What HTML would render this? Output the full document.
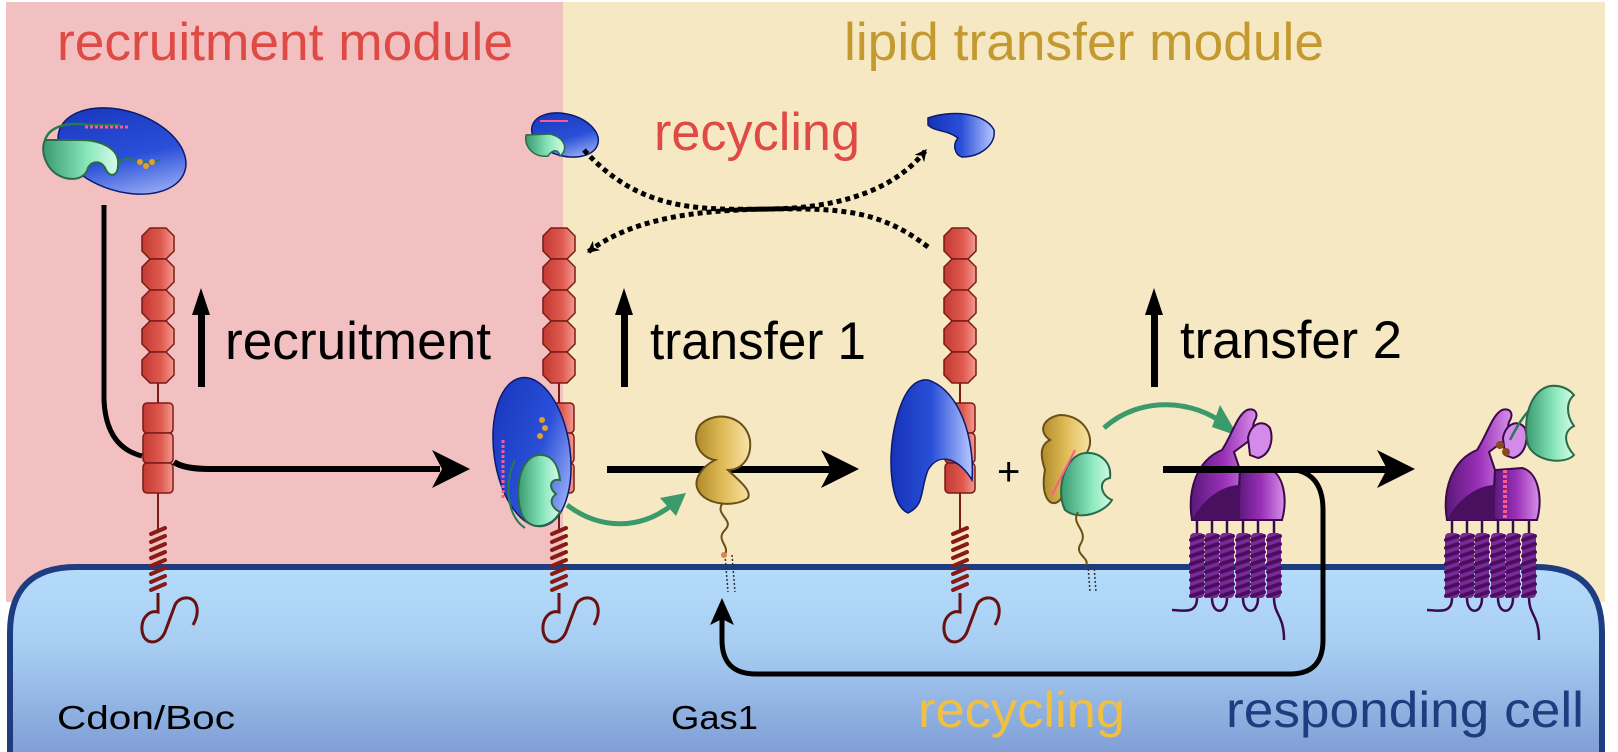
<!DOCTYPE html>
<html><head><meta charset="utf-8"><style>
html,body{margin:0;padding:0;background:#fff;width:1618px;height:752px;overflow:hidden;}
svg{display:block;font-family:"Liberation Sans",sans-serif;}
</style></head><body>
<svg width="1618" height="752" viewBox="0 0 1618 752" xmlns="http://www.w3.org/2000/svg">
<defs>
<linearGradient id="cell" x1="0" y1="0" x2="0" y2="1"><stop offset="0" stop-color="#b6dcfb"/><stop offset="0.45" stop-color="#a6ccf2"/><stop offset="1" stop-color="#809fd6"/></linearGradient>
<linearGradient id="red" x1="0" y1="0" x2="1" y2="0"><stop offset="0" stop-color="#c23a32"/><stop offset="0.6" stop-color="#e05a50"/><stop offset="1" stop-color="#f29a90"/></linearGradient>
<linearGradient id="blue" x1="0" y1="0" x2="1" y2="1"><stop offset="0" stop-color="#1533b8"/><stop offset="0.55" stop-color="#2a4fd8"/><stop offset="1" stop-color="#c4d2ff"/></linearGradient>
<linearGradient id="blueh" x1="0" y1="0" x2="1" y2="0"><stop offset="0" stop-color="#1533b8"/><stop offset="0.5" stop-color="#2a4fd8"/><stop offset="1" stop-color="#b8c8ff"/></linearGradient>
<linearGradient id="green" x1="0" y1="0" x2="1" y2="0"><stop offset="0" stop-color="#3a9a70"/><stop offset="0.6" stop-color="#8ae8bc"/><stop offset="1" stop-color="#d8fbe8"/></linearGradient>
<linearGradient id="gold" x1="0" y1="0" x2="1" y2="0"><stop offset="0" stop-color="#b08a28"/><stop offset="0.5" stop-color="#e0bc58"/><stop offset="1" stop-color="#f8e4a8"/></linearGradient>
<linearGradient id="purp" x1="0" y1="0" x2="1" y2="0"><stop offset="0" stop-color="#5a1878"/><stop offset="0.5" stop-color="#9a30b8"/><stop offset="1" stop-color="#d890e8"/></linearGradient>
<marker id="ah" markerWidth="12" markerHeight="12" refX="9" refY="5" orient="auto" markerUnits="userSpaceOnUse" viewBox="0 0 10 10"><path d="M0,0 L10,5 L0,10 L3,5 Z" fill="#000"/></marker>
<g id="chain">
 <g fill="url(#red)" stroke="#7a1a14" stroke-width="1.5">
 <polygon points="-8,0 8,0 16,8 16,23 8,31 -8,31 -16,23 -16,8"/>
 <polygon points="-8,31 8,31 16,39 16,54 8,62 -8,62 -16,54 -16,39"/>
 <polygon points="-8,62 8,62 16,70 16,85 8,93 -8,93 -16,85 -16,70"/>
 <polygon points="-8,93 8,93 16,101 16,116 8,124 -8,124 -16,116 -16,101"/>
 <polygon points="-8,124 8,124 16,132 16,147 8,155 -8,155 -16,147 -16,132"/>
 </g>
 <line x1="0" y1="155" x2="0" y2="305" stroke="#7a1a14" stroke-width="2"/>
 <g fill="url(#red)" stroke="#7a1a14" stroke-width="1.5">
 <rect x="-15" y="175" width="30" height="30" rx="4"/>
 <rect x="-15" y="205" width="30" height="30" rx="4"/>
 <rect x="-15" y="235" width="30" height="30" rx="4"/>
 </g>
 <g stroke="#8a1a14" stroke-width="4" stroke-linecap="round">
 <line x1="-7" y1="306" x2="7" y2="300"/><line x1="-7" y1="314" x2="7" y2="308"/><line x1="-7" y1="322" x2="7" y2="316"/><line x1="-7" y1="330" x2="7" y2="324"/><line x1="-7" y1="338" x2="7" y2="332"/><line x1="-7" y1="346" x2="7" y2="340"/><line x1="-7" y1="354" x2="7" y2="348"/><line x1="-7" y1="362" x2="7" y2="356"/>
 </g>
 <path d="M0,365 L0,384 C-9,382 -17,390 -16,402 C-15,417 1,418 7,404 L17,377 C21,368 37,366 39,380 C40,388 37,393 35,397" fill="none" stroke="#6a1010" stroke-width="3"/>
</g>
<g id="coilp" stroke="#4a0e5e" stroke-width="4" stroke-linecap="round">
 <line x1="-6" y1="4" x2="6" y2="0"/><line x1="-6" y1="12" x2="6" y2="8"/><line x1="-6" y1="20" x2="6" y2="16"/><line x1="-6" y1="28" x2="6" y2="24"/><line x1="-6" y1="36" x2="6" y2="32"/><line x1="-6" y1="44" x2="6" y2="40"/><line x1="-6" y1="52" x2="6" y2="48"/><line x1="-6" y1="60" x2="6" y2="56"/>
</g>
<g id="recep">
 <g stroke="#3a0a4a" stroke-width="2.5" fill="none">
  <path d="M5,110 L5,123 M20,110 L20,123 M35,110 L35,123 M51,110 L51,123 M66,110 L66,123 M82,110 L82,123"/>
  <path d="M5,188 C5,205 -10,200 -20,200 M20,188 C20,205 35,205 35,188 M51,188 C51,205 66,205 66,188 M82,188 C82,205 92,205 92,230"/>
 </g>
 <g fill="#7a2a98">
  <rect x="-2" y="123" width="14" height="65" rx="4"/><rect x="13" y="123" width="14" height="65" rx="4"/><rect x="28" y="123" width="14" height="65" rx="4"/><rect x="44" y="123" width="14" height="65" rx="4"/><rect x="59" y="123" width="14" height="65" rx="4"/><rect x="75" y="123" width="14" height="65" rx="4"/>
 </g>
 <use href="#coilp" x="5" y="126"/><use href="#coilp" x="20" y="126"/><use href="#coilp" x="35" y="126"/><use href="#coilp" x="51" y="126"/><use href="#coilp" x="66" y="126"/><use href="#coilp" x="82" y="126"/>
 <path d="M0,110 C-5,80 5,50 30,40 C40,25 45,5 55,0 C62,-2 68,2 62,12 L58,30 L42,42 L48,60 L45,110 Z" fill="url(#purp)" stroke="#3a0a4a" stroke-width="2"/>
 <path d="M48,60 L46,110 L90,110 C96,90 92,62 75,58 Z" fill="url(#purp)" stroke="#3a0a4a" stroke-width="2"/>
 <path d="M0,110 C10,90 30,75 48,75 L48,110 Z" fill="#4a1060"/>
 <path d="M56,28 C58,15 70,8 78,18 C82,30 78,45 66,48 L58,45 Z" fill="#d48ae8" stroke="#3a0a4a" stroke-width="2"/>
</g>
</defs>
<!-- backgrounds -->
<rect x="6" y="2" width="557" height="600" fill="#f2c0c0"/>
<rect x="563" y="2" width="1042" height="600" fill="#f7e8c4"/>
<path d="M10,752 L10,633 Q10,567 76,567 L1536,567 Q1602,567 1602,633 L1602,752 Z" fill="url(#cell)"/>
<path d="M10,752 L10,633 Q10,567 76,567 L1536,567 Q1602,567 1602,633 L1602,752" fill="none" stroke="#1d3d80" stroke-width="6"/>

<!-- titles -->
<text x="57" y="60" font-size="53" fill="#e04a45" textLength="456" lengthAdjust="spacingAndGlyphs">recruitment module</text>
<text x="844" y="60" font-size="53" fill="#c49a30" textLength="480" lengthAdjust="spacingAndGlyphs">lipid transfer module</text>
<text x="654" y="150" font-size="53" fill="#e04a45" textLength="206" lengthAdjust="spacingAndGlyphs">recycling</text>

<!-- chains -->
<use href="#chain" x="158" y="228"/>
<use href="#chain" x="559" y="228"/>
<use href="#chain" x="960" y="228"/>

<!-- top-left complex -->
<ellipse cx="122" cy="151" rx="66" ry="40" transform="rotate(18 122 151)" fill="url(#blue)" stroke="#0a1a70" stroke-width="1.5"/>
<path d="M45,140 C40,150 45,172 65,178 C78,181 86,176 88,168 C92,160 102,160 106,170 C110,178 118,176 118,165 C120,148 100,140 80,140 Z" fill="url(#green)" stroke="#2a6a4a" stroke-width="2"/>
<path d="M45,140 C50,125 70,122 90,125 L120,125" fill="none" stroke="#2a7a50" stroke-width="2.5"/>
<path d="M85,127 L128,127" stroke="#ff5a8a" stroke-width="3" stroke-dasharray="3 2"/>
<path d="M118,165 C125,150 140,168 160,160" fill="none" stroke="#2a7a50" stroke-width="2"/>
<circle cx="140" cy="162" r="3" fill="#e0a030"/><circle cx="146" cy="166" r="3" fill="#e0a030"/><circle cx="152" cy="162" r="3" fill="#e0a030"/>

<!-- small top complex -->
<ellipse cx="565" cy="135" rx="34" ry="21" transform="rotate(15 565 135)" fill="url(#blue)" stroke="#0a1a70" stroke-width="1.5"/>
<path d="M526,135 C524,148 535,158 548,156 C552,150 558,148 560,156 C568,150 566,138 550,134 Z" fill="url(#green)" stroke="#2a6a4a" stroke-width="1.5"/>
<line x1="540" y1="121" x2="568" y2="121" stroke="#ff5a8a" stroke-width="2"/>
<!-- small top-right blue -->
<path d="M928,118 C950,110 985,112 994,130 C996,145 980,157 962,157 C955,155 952,145 958,138 C948,130 935,132 928,125 Z" fill="url(#blueh)" stroke="#0a1a70" stroke-width="1.5"/>

<!-- dotted recycling arrows -->
<path d="M584,150 C640,212 700,210 770,209 C840,208 895,190 926,150" fill="none" stroke="#000" stroke-width="5" stroke-dasharray="5 4" marker-end="url(#ah)"/>
<path d="M928,247 C880,210 840,208 770,209 C690,210 630,220 588,252" fill="none" stroke="#000" stroke-width="5" stroke-dasharray="5 4" marker-end="url(#ah)"/>

<!-- up arrows -->
<g fill="#000">
<rect x="198" y="310" width="7" height="77"/><polygon points="201,288 192,315 210,315"/>
<rect x="621" y="310" width="7" height="77"/><polygon points="624,288 615,315 633,315"/>
<rect x="1151" y="310" width="7" height="77"/><polygon points="1154,288 1145,315 1163,315"/>
</g>
<text x="225" y="359" font-size="53" fill="#000" textLength="266" lengthAdjust="spacingAndGlyphs">recruitment</text>
<text x="650" y="359" font-size="53" fill="#000" textLength="216" lengthAdjust="spacingAndGlyphs">transfer 1</text>
<text x="1180" y="358" font-size="53" fill="#000" textLength="222" lengthAdjust="spacingAndGlyphs">transfer 2</text>

<!-- recruitment path -->
<path d="M104,205 L104,400 Q106,447 142,456" fill="none" stroke="#000" stroke-width="5"/>
<path d="M174,462 Q184,469 210,469 L440,469" fill="none" stroke="#000" stroke-width="6"/>
<polygon points="470,469 432,450 442,469 432,488" fill="#000"/>

<!-- second complex at chain 2 -->
<ellipse cx="532" cy="452" rx="38" ry="75" transform="rotate(-8 532 452)" fill="url(#blue)" stroke="#0a1a70" stroke-width="1.5"/>
<line x1="503" y1="440" x2="503" y2="500" stroke="#ff5a8a" stroke-width="3" stroke-dasharray="3 2"/>
<path d="M538,455 C518,458 514,495 522,515 C530,532 552,528 560,512 C552,508 548,500 556,494 C548,488 550,478 560,480 C558,462 550,454 538,455 Z" fill="url(#green)" stroke="#2a6a4a" stroke-width="2"/>
<path d="M515,460 C505,480 505,515 525,528" fill="none" stroke="#2a7a50" stroke-width="2"/>
<circle cx="542" cy="420" r="3" fill="#e0a030"/><circle cx="545" cy="428" r="3" fill="#e0a030"/><circle cx="540" cy="436" r="3" fill="#e0a030"/>

<!-- arrow 2 -->
<rect x="607" y="466" width="225" height="7" fill="#000"/>
<polygon points="859,469 821,450 831,469 821,488" fill="#000"/>

<!-- Gas1 gold -->
<path d="M700,425 C715,410 745,415 750,440 C752,460 740,470 728,470 C738,480 752,490 748,498 C735,508 705,505 698,490 C692,478 705,465 715,460 C700,458 690,440 700,425 Z" fill="url(#gold)" stroke="#6a5018" stroke-width="2"/>
<path d="M722,504 C715,515 735,520 725,530 C715,540 730,545 725,555" fill="none" stroke="#6a5018" stroke-width="2"/>
<path d="M725,555 L728,592 M732,555 L735,592" stroke="#333" stroke-width="1.5" stroke-dasharray="2 2"/>
<circle cx="724" cy="555" r="3" fill="#e08050"/>
<!-- green arrow 1 -->
<path d="M567,505 C600,530 640,530 672,505" fill="none" stroke="#3a9a6a" stroke-width="5"/>
<polygon points="686,493 660,498 676,516" fill="#3a9a6a"/>

<!-- blue shape chain 3 -->
<path d="M928,380 C960,390 975,440 972,480 C960,460 940,450 928,470 C920,490 925,505 908,513 C890,505 888,460 894,430 C900,400 910,378 928,380 Z" fill="url(#blueh)" stroke="#0a1a70" stroke-width="1.5"/>

<!-- plus -->
<text x="997" y="485" font-size="40" fill="#000">+</text>

<!-- gold+green complex -->
<path d="M1060,415 C1085,415 1098,440 1085,455 L1060,500 C1050,510 1040,495 1045,470 C1040,455 1040,445 1050,440 C1038,432 1042,418 1060,415 Z" fill="url(#gold)" stroke="#6a5018" stroke-width="2"/>
<path d="M1085,453 C1065,455 1055,490 1065,510 C1080,522 1105,512 1112,500 C1100,495 1098,480 1110,478 C1112,462 1100,452 1085,453 Z" fill="url(#green)" stroke="#2a6a4a" stroke-width="2"/>
<line x1="1052" y1="495" x2="1075" y2="450" stroke="#ff5a8a" stroke-width="2"/>
<path d="M1078,512 C1070,525 1090,530 1080,545 C1075,555 1090,558 1086,565" fill="none" stroke="#6a5018" stroke-width="2"/>
<path d="M1088,565 L1090,592 M1094,565 L1096,592" stroke="#333" stroke-width="1.5" stroke-dasharray="2 2"/>
<!-- green arrow 2 -->
<path d="M1104,428 C1140,395 1195,400 1225,425" fill="none" stroke="#3a9a6a" stroke-width="5"/>
<polygon points="1238,436 1212,427 1220,405" fill="#3a9a6a"/>

<!-- receptors -->
<use href="#recep" x="1192" y="410"/>
<!-- arrow 3 -->
<rect x="1163" y="466" width="225" height="7" fill="#000"/>
<polygon points="1415,469 1377,450 1387,469 1377,488" fill="#000"/>
<!-- loop arrow -->
<path d="M1250,469 L1285,469 Q1323,469 1323,510 L1323,640 Q1323,674 1290,674 L756,674 Q722,674 722,640 L722,618" fill="none" stroke="#000" stroke-width="5"/>
<polygon points="722,598 710,625 722,619 734,625" fill="#000"/>

<use href="#recep" x="1447" y="410"/>
<line x1="1505" y1="470" x2="1505" y2="520" stroke="#ff5a8a" stroke-width="4" stroke-dasharray="3 2"/>
<circle cx="1500" cy="445" r="4" fill="#8a4a20"/><circle cx="1506" cy="452" r="4" fill="#8a4a20"/>
<path d="M1510,440 C1520,420 1530,405 1545,400" fill="none" stroke="#2a7a50" stroke-width="2.5"/>
<path d="M1550,386 C1530,390 1522,420 1528,445 C1535,462 1565,465 1574,455 C1565,445 1562,432 1574,426 C1566,415 1566,402 1574,395 C1568,388 1560,385 1550,386 Z" fill="url(#green)" stroke="#2a6a4a" stroke-width="2"/>

<!-- bottom labels -->
<text x="57" y="729" font-size="33" fill="#000" textLength="178" lengthAdjust="spacingAndGlyphs">Cdon/Boc</text>
<text x="671" y="729" font-size="33" fill="#000" textLength="87" lengthAdjust="spacingAndGlyphs">Gas1</text>
<text x="918" y="727" font-size="50" fill="#f2c040" textLength="207" lengthAdjust="spacingAndGlyphs">recycling</text>
<text x="1226" y="727" font-size="50" fill="#1d3d80" textLength="358" lengthAdjust="spacingAndGlyphs">responding cell</text>
</svg>
</body></html>
